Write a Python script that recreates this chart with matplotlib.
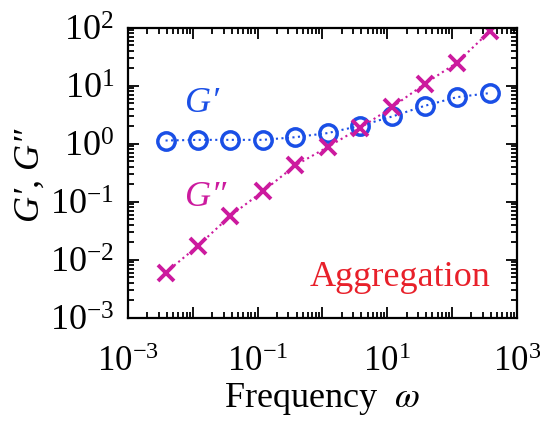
import math
import matplotlib
matplotlib.use("Agg")
import matplotlib.pyplot as plt
from matplotlib.ticker import LogLocator, NullFormatter, FixedLocator, FuncFormatter

# data
omega = [0.0038, 0.012, 0.038, 0.12, 0.38, 1.2, 3.8, 12, 38, 120, 380]
g_storage = [1.14, 1.17, 1.17, 1.17, 1.30, 1.53, 2.04, 2.96, 4.52, 6.38, 7.48]
g_loss = [0.0060, 0.0174, 0.0574, 0.151, 0.423, 0.877, 1.87, 4.30, 10.8, 25.2, 86.3]

x_tick_labels = [1e-3, 1e-1, 1e1, 1e3]

blue = "#1a4fe6"
magenta = "#cc1a9e"
red = "#e8202a"

plt.rcParams["font.family"] = ["Liberation Serif", "DejaVu Serif"]
plt.rcParams["mathtext.fontset"] = "stix"
plt.rcParams["font.size"] = 26


def pow_label(v):
    return "$\\mathregular{10^{%d}}$" % round(math.log10(v))


fig = plt.figure(figsize=(5.4, 4.21), dpi=100)
ax = fig.add_axes([0.237, 0.245, 0.72, 0.689])

ax.plot(omega, g_storage, linestyle=":", color=blue, lw=1.5,
        marker="o", ms=12.5, mfc="none", mec=blue, mew=2.5)
ax.plot(omega, g_loss, linestyle=":", color=magenta, lw=1.5,
        marker="x", ms=11.5, mec=magenta, mew=2.8)

ax.set_xscale("log")
ax.set_yscale("log")
ax.set_xlim(1e-3, 1e3)
ax.set_ylim(1e-3, 1e2)

# every decade gets a tick, only odd powers on x get a label
ax.xaxis.set_major_locator(FixedLocator([10.0**k for k in range(-3, 4)]))
ax.xaxis.set_major_formatter(FuncFormatter(
    lambda v, p: pow_label(v) if any(abs(v / t - 1) < 1e-6 for t in x_tick_labels) else ""))
ax.yaxis.set_major_locator(FixedLocator([10.0**k for k in range(-3, 3)]))
ax.yaxis.set_major_formatter(FuncFormatter(lambda v, p: pow_label(v)))
for axis in (ax.xaxis, ax.yaxis):
    axis.set_minor_locator(LogLocator(base=10, subs=range(2, 10), numticks=20))
    axis.set_minor_formatter(NullFormatter())

ax.tick_params(which="both", direction="in", top=True, right=True, width=1.3)
ax.tick_params(which="major", length=8)
ax.tick_params(axis="x", which="major", pad=20, labelsize=25)
ax.tick_params(axis="y", which="major", pad=10)
ax.tick_params(which="minor", length=4)
for s in ax.spines.values():
    s.set_linewidth(1.6)

ax.text(0.19, 0.74, "G′", transform=ax.transAxes, color=blue, style="italic",
        fontsize=26, ha="center", va="center")
ax.text(0.20, 0.415, "G″", transform=ax.transAxes, color=magenta, style="italic",
        fontsize=26, ha="center", va="center")
ax.text(0.70, 0.14, "Aggregation", transform=ax.transAxes, color=red,
        fontsize=26, ha="center", va="center")

ax.set_xlabel("Frequency  $\\omega$", fontsize=26, labelpad=2)
ax.set_ylabel("G′, G″", fontsize=26, style="italic")
ax.yaxis.set_label_coords(-0.208, 0.49)

fig.savefig("out.png", dpi=100)
